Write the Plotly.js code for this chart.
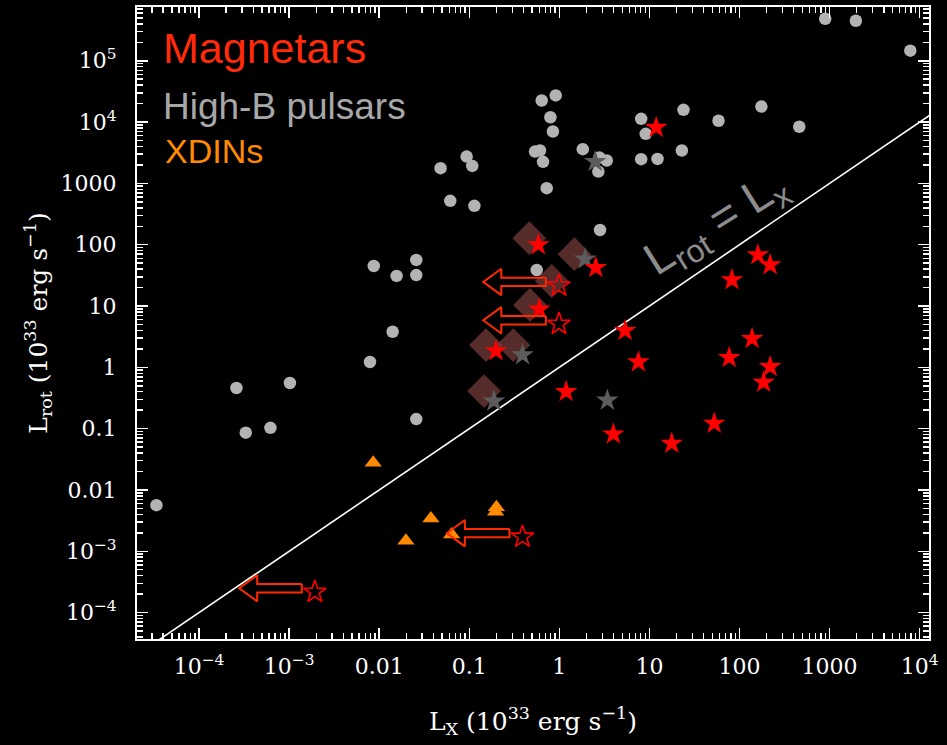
<!DOCTYPE html>
<html>
<head>
<meta charset="utf-8">
<script src="https://cdn.plot.ly/plotly-3.0.1.min.js"></script>
<style>
  html, body { margin: 0; padding: 0; background: #000; }
  #chart { width: 947px; height: 745px; }
</style>
</head>
<body>
<div id="chart"></div>
<script>
// Spin-down luminosity vs X-ray luminosity (units of 1e33 erg/s)

// High-B radio pulsars
const pulsarLx   = [3.36e-5, 2.6e-4, 3.3e-4, 6.2e-4, 1.02e-3, 7.9e-3, 8.7e-3, 0.0141, 0.0156, 0.0258, 0.0258, 0.0258,
                    0.048, 0.0615, 0.0935, 0.108, 0.114, 0.537, 0.61, 0.637, 0.912, 0.796, 0.849, 0.659, 0.724, 0.561,
                    1.82, 2.78, 3.36, 2.71, 2.83, 8.1, 9.1, 23.9, 8.1, 12.3, 22.9, 58.5, 175, 461, 895, 1960, 7880];
const pulsarLrot = [5.65e-3, 0.46, 0.086, 0.103, 0.555, 1.22, 45, 3.8, 31, 56.5, 32, 0.143,
                    1770, 519, 2740, 1930, 430, 3300, 3440, 22500, 27200, 12000, 7010, 2245, 836, 38.7,
                    3620, 2640, 2360, 1560, 174, 11300, 6430, 15850, 2485, 2510, 3440, 10500, 17900, 8380, 485000, 450000, 146000];

// Magnetars (detected)
const magLx   = [0.585, 2.54, 0.198, 0.6, 1.19, 160, 219, 82.4, 5.37, 7.55, 138, 76.9, 219, 185, 3.98, 52.4, 17.7, 11.9];
const magLrot = [99, 42.3, 1.85, 8.85, 0.40, 68, 46.8, 26.6, 3.96, 1.22, 2.93, 1.44, 1.02, 0.569, 0.0815, 0.122, 0.0574, 8150];

// Magnetars with upper limits on Lx
const limLx   = [0.99, 0.99, 0.39, 1.93e-3];
const limLrot = [21.5, 5.1, 1.72e-3, 2.17e-4];

// Pulsars with magnetar-like activity
const burstLx   = [2.5, 1.93, 0.39, 0.188, 3.41];
const burstLrot = [2270, 58, 1.59, 0.28, 0.29];

// Outburst peak states
const peakLx   = [0.464, 1.47, 0.824, 0.472, 0.153, 0.308, 0.146];
const peakLrot = [128, 70, 25.6, 10.4, 2.31, 2.31, 0.41];

// XDINs
const xdinLx   = [8.58e-3, 0.0375, 0.0198, 0.196, 0.2, 0.0637];
const xdinLrot = [0.0277, 3.43e-3, 1.48e-3, 4.4e-3, 5.2e-3, 1.88e-3];

// Axis ticks
const majorTicks = [1e-4, 1e-3, 0.01, 0.1, 1, 10, 100, 1000, 1e4];
const xTickText  = ['10<sup>\u22124</sup>', '10<sup>\u22123</sup>', '0.01', '0.1', '1', '10', '100', '1000', '10<sup>4</sup>'];
const yTickVals  = [1e-4, 1e-3, 0.01, 0.1, 1, 10, 100, 1000, 1e4, 1e5];
const yTickText  = ['10<sup>\u22124</sup>', '10<sup>\u22123</sup>', '0.01', '0.1', '1', '10', '100', '1000', '10<sup>4</sup>', '10<sup>5</sup>'];

// Equality line extent
const equalityEnds = [1e-5, 1e5];

// minor ticks at 2..9 of each decade
const minorTicks = [];
for (let d = -5; d <= 5; d++) {
  for (let m = 2; m <= 9; m++) minorTicks.push(m * Math.pow(10, d));
}

// outline arrows pointing to lower Lx from each limit (geometry in decades)
const ARROW = { tip: 0.84, neck: 0.64, tail: 0.145, shaft: 0.068, head: 0.215, lift: 0.06 };
const arrowX = [], arrowY = [];
limLx.forEach((lx0, i) => {
  const lx = Math.log10(lx0), ly = Math.log10(limLrot[i]) + ARROW.lift;
  const pts = [
    [lx - ARROW.tail, ly + ARROW.shaft],
    [lx - ARROW.neck, ly + ARROW.shaft],
    [lx - ARROW.neck, ly + ARROW.head],
    [lx - ARROW.tip,  ly],
    [lx - ARROW.neck, ly - ARROW.head],
    [lx - ARROW.neck, ly - ARROW.shaft],
    [lx - ARROW.tail, ly - ARROW.shaft],
    [lx - ARROW.tail, ly + ARROW.shaft]
  ];
  pts.forEach(p => { arrowX.push(Math.pow(10, p[0])); arrowY.push(Math.pow(10, p[1])); });
  arrowX.push(null); arrowY.push(null);
});

const traces = [
  { x: equalityEnds, y: equalityEnds, mode: 'lines', line: { color: '#ffffff', width: 1.6 }, hoverinfo: 'skip' },
  { x: peakLx, y: peakLrot, mode: 'markers',
    marker: { symbol: 'diamond', size: 26, color: 'rgba(122,62,60,0.7)', line: { width: 0 } } },
  { x: pulsarLx, y: pulsarLrot, mode: 'markers',
    marker: { symbol: 'circle', size: 12.5, color: '#b3b3b3', line: { width: 0 } } },
  { x: xdinLx, y: xdinLrot, mode: 'markers',
    marker: { symbol: 'triangle-up', size: 15, color: '#ff8a00', line: { width: 0 } } },
  { x: burstLx, y: burstLrot, mode: 'markers',
    marker: { symbol: 'star', size: 17, color: '#5c5c5c', line: { width: 0 } } },
  { x: magLx, y: magLrot, mode: 'markers',
    marker: { symbol: 'star', size: 17, color: '#ff0000', line: { width: 0 } } },
  { x: limLx, y: limLrot, mode: 'markers',
    marker: { symbol: 'star-open', size: 17, color: '#ff0000', line: { width: 1.6, color: '#ff0000' } } },
  { x: arrowX, y: arrowY, mode: 'lines', line: { color: '#ff2a00', width: 2 }, hoverinfo: 'skip' }
];

const axisCommon = {
  type: 'log',
  tickmode: 'array',
  ticks: 'inside',
  ticklen: 11,
  tickwidth: 1.5,
  tickcolor: '#ffffff',
  showline: true,
  linecolor: '#ffffff',
  linewidth: 2,
  mirror: 'allticks',
  showgrid: false,
  zeroline: false,
  tickfont: { family: 'DejaVu Serif', size: 22, color: '#ffffff' },
  minor: { tickmode: 'array', tickvals: minorTicks, ticks: 'inside', ticklen: 6, tickwidth: 1.5, tickcolor: '#ffffff', showgrid: false }
};

const layout = {
  width: 947, height: 745,
  paper_bgcolor: '#000000',
  plot_bgcolor: '#000000',
  margin: { l: 137, r: 18, t: 7, b: 106 },
  showlegend: false,
  font: { family: 'DejaVu Serif', color: '#ffffff' },
  xaxis: Object.assign({}, axisCommon, {
    range: [-4.689, 4.104],
    tickvals: majorTicks,
    ticktext: xTickText,
    ticklabelstandoff: 7,
    title: { text: 'L<sub>X</sub> (10<sup>33</sup> erg s<sup>\u22121</sup>)', font: { family: 'DejaVu Serif', size: 25, color: '#ffffff' }, standoff: 34 }
  }),
  yaxis: Object.assign({}, axisCommon, {
    range: [-4.431, 5.877],
    tickvals: yTickVals,
    ticktext: yTickText,
    ticklabelstandoff: 14,
    title: { text: 'L<sub>rot</sub> (10<sup>33</sup> erg s<sup>\u22121</sup>)', font: { family: 'DejaVu Serif', size: 25, color: '#ffffff' }, standoff: 6 }
  }),
  annotations: [
    { xref: 'paper', yref: 'paper', x: 0.03, y: 0.935, xanchor: 'left', yanchor: 'middle', showarrow: false,
      text: 'Magnetars', font: { family: 'Liberation Sans', size: 43, color: '#ff2a0a' } },
    { xref: 'paper', yref: 'paper', x: 0.03, y: 0.843, xanchor: 'left', yanchor: 'middle', showarrow: false,
      text: 'High-B pulsars', font: { family: 'Liberation Sans', size: 37, color: '#a8a8a8' } },
    { xref: 'paper', yref: 'paper', x: 0.033, y: 0.772, xanchor: 'left', yanchor: 'middle', showarrow: false,
      text: 'XDINs', font: { family: 'Liberation Sans', size: 34, color: '#ff8a00' } },
    { xref: 'x', yref: 'y', x: 1.74, y: 2.33, xanchor: 'center', yanchor: 'middle', showarrow: false, textangle: -32,
      text: 'L<sub>rot</sub> = L<sub>x</sub>', font: { family: 'Liberation Sans', size: 46, color: '#8c8c8c' } }
  ]
};

Plotly.newPlot('chart', traces, layout, { displayModeBar: false, staticPlot: true });
</script>
</body>
</html>
